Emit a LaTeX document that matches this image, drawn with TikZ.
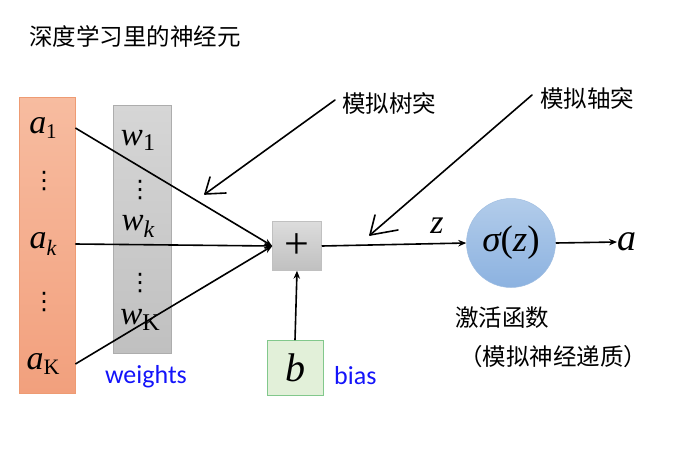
\documentclass[tikz,border=0pt]{standalone}
\usepackage{fontspec}
\newfontfamily\cjk{Noto Sans CJK SC}
\newfontfamily\calfont{Carlito}
\newfontfamily\tnr{Liberation Serif}
\newfontfamily\djv{DejaVu Sans}
\usetikzlibrary{arrows.meta,shadings}
\definecolor{orbar}{RGB}{242,160,125}
\definecolor{orbartop}{RGB}{247,188,160}
\definecolor{orline}{RGB}{238,155,115}
\definecolor{graytop}{RGB}{214,214,214}
\definecolor{graybot}{RGB}{192,192,192}
\definecolor{bluetop}{RGB}{178,204,234}
\definecolor{bluebot}{RGB}{140,178,224}
\definecolor{blueline}{RGB}{160,190,225}
\definecolor{greenfill}{RGB}{226,240,217}
\definecolor{greenline}{RGB}{130,200,140}
\definecolor{labblue}{RGB}{20,20,250}
\begin{document}
\begin{tikzpicture}[x=1pt,y=-1pt,
  cjklab/.style={font=\cjk\fontsize{23.5}{26}\selectfont, inner sep=0pt},
  blab/.style={font=\calfont\fontsize{26}{28}\selectfont, text=labblue, inner sep=0pt},
  avar/.style={font=\tnr\fontsize{34}{34}\selectfont, inner sep=0pt},
  wvar/.style={font=\tnr\fontsize{33}{33}\selectfont, inner sep=0pt},
  dotv/.style={font=\djv\fontsize{24}{24}\selectfont, inner sep=0pt},
  conn/.style={line width=1.6pt, -{Stealth[length=8pt,width=6.5pt]}},
  hand/.style={line width=1.6pt, line cap=round}]
\useasboundingbox (0,0) rectangle (678,448);

% title
\node[cjklab, anchor=west] (title) at (29,36) {深度学习里的神经元};

% input and weight bars
\node[draw=orline, line width=0.8pt, top color=orbartop, bottom color=orbar,
      minimum width=56pt, minimum height=296pt, inner sep=0pt] (abar) at (47,245) {};
\node[draw=graybot!90!black, line width=0.5pt, top color=graytop, bottom color=graybot,
      minimum width=58pt, minimum height=248pt, inner sep=0pt] (wbar) at (142,229) {};

\node[avar] (a1) at (43,128) {\itshape a\raisebox{-5pt}{\fontsize{21}{21}\selectfont\upshape 1}};
\node[dotv] (ad1) at (44,181) {⋮};
\node[avar] (ak) at (43,244) {\itshape a\raisebox{-7pt}{\fontsize{22}{22}\selectfont k}};
\node[dotv] (ad2) at (44,302) {⋮};
\node[avar] (aK) at (43,364) {\itshape a\raisebox{-5pt}{\fontsize{22}{22}\selectfont\upshape K}};

\node[wvar] (w1) at (138,140) {\itshape w\raisebox{-5pt}{\fontsize{24}{24}\selectfont\upshape 1}};
\node[dotv] (wd1) at (140,190) {⋮};
\node[wvar] (wk) at (138,226) {\itshape w\raisebox{-7pt}{\fontsize{24}{24}\selectfont k}};
\node[dotv] (wd2) at (140,283) {⋮};
\node[wvar] (wK) at (140,320) {\itshape w\raisebox{-6pt}{\fontsize{24}{24}\selectfont\upshape K}};

% sum box
\node[draw=graybot, line width=0.5pt, top color=graytop!85!white, bottom color=graybot,
      minimum width=49pt, minimum height=49pt, inner sep=0pt,
      font=\tnr\fontsize{44}{44}\selectfont] (sum) at (297,246) {+};

% bias
\node[draw=greenline, line width=0.8pt, fill=greenfill, minimum width=56pt, minimum height=55pt,
      inner sep=0pt, font=\tnr\itshape\fontsize{40}{40}\selectfont] (b) at (295,368) {b};

% activation
\node[circle, draw=blueline, line width=0.5pt, top color=bluetop, bottom color=bluebot,
      minimum size=89pt, inner sep=0pt, font=\tnr\fontsize{37}{37}\selectfont] (act) at (511,243) {\itshape σ\upshape(\itshape z\upshape)};

\node[avar, font=\tnr\itshape\fontsize{38}{38}\selectfont, anchor=west] (out) at (617,242) {a};
\node[avar, font=\tnr\itshape\fontsize{34}{34}\selectfont] (zl) at (437,226) {z};

% labels
\node[blab] (wlab) at (146,377) {weights};
\node[blab, anchor=west] (blab) at (334,376) {bias};
\node[cjklab, anchor=west] (actlab) at (455,318) {激活函数};
\node[cjklab, anchor=west] (actsub) at (459,357) {（模拟神经递质）};
\node[cjklab, anchor=west] (dend) at (342,103) {模拟树突};
\node[cjklab, anchor=west] (axon) at (540,98) {模拟轴突};

% connectors
\draw[conn] (abar.east |- a1) -- (sum.west);
\draw[conn] (abar.east |- ak) -- (sum.west);
\draw[conn] (abar.east |- aK) -- (sum.west);
\draw[conn] (b.north) -- (sum.south);
\draw[conn] (sum.east) -- (act.west);
\draw[conn] (act.east) -- (out.west);

% hand-drawn pointers
\coordinate (dendtail) at (335,100);
\coordinate (dendtip) at (205,194);
\coordinate (axontail) at (532,95);
\coordinate (axontip) at (370,235);
\draw[hand] (dendtail) -- (dendtip);
\draw[hand] (dendtip) -- ++(5,-17);
\draw[hand] (dendtip) -- ++(21,-1);
\draw[hand] (axontail) -- (axontip);
\draw[hand] (axontip) -- ++(5,-20);
\draw[hand] (axontip) -- ++(28,-5);
\end{tikzpicture}
\end{document}
